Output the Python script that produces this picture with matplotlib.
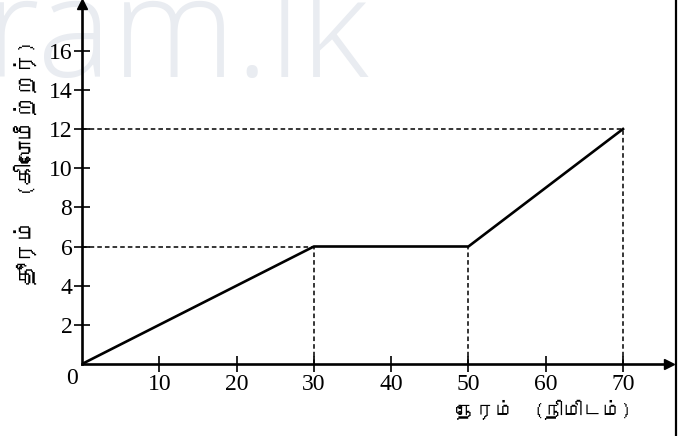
import numpy as np
import matplotlib
matplotlib.use("Agg")
import matplotlib.pyplot as plt
from matplotlib import font_manager
from matplotlib.ft2font import FT2Font
from matplotlib.lines import Line2D

# -----------------------------
# Data
# -----------------------------
time_min = [0, 30, 50, 70]
dist_km = [0, 6, 6, 12]
x_ticks = [10, 20, 30, 40, 50, 60, 70]
y_ticks = [2, 4, 6, 8, 10, 12, 14, 16]
x_label = "நேரம்  (நிமிடம்)"
y_label = "தூரம்  (கிலோமீற்றர்)"
watermark = "gram.lk"


# -----------------------------
# Find a font with Tamil glyphs, if any
# -----------------------------
def find_family(ch):
    for f in font_manager.fontManager.ttflist:
        try:
            if ord(ch) in FT2Font(f.fname).get_charmap():
                return f.name
        except Exception:
            pass
    return None


tamil = find_family("த")
label_family = [tamil, "DejaVu Sans"] if tamil else ["DejaVu Sans"]

W, H = 681, 436
fig = plt.figure(figsize=(W / 100, H / 100), dpi=100)

# axes placed so that the origin sits where it does in the scan
x0, y0 = 82, 364          # origin in pixels
px_x = (623 - 82) / 70    # pixels per minute
px_y = (364 - 129) / 12   # pixels per km
xmax, ymax = 76.0, 18.4
ax = fig.add_axes([x0 / W, (H - y0) / H, xmax * px_x / W, ymax * px_y / H])
ax.set_xlim(0, xmax)
ax.set_ylim(0, ymax)
ax.set_zorder(2)
ax.patch.set_visible(False)

# watermark, behind everything
fig.text(369 / W, 1 - 77 / H, watermark, ha="right", va="baseline",
         fontsize=101, color="#e9ecf1", family="Open Sans",
         fontweight="light", zorder=0)

# -----------------------------
# Axes with arrows
# -----------------------------
for s in ["top", "right"]:
    ax.spines[s].set_visible(False)
for s in ["left", "bottom"]:
    ax.spines[s].set_linewidth(1.9)
ax.plot(1, 0, ">k", markersize=7, transform=ax.get_yaxis_transform(), clip_on=False)
ax.plot(0, 1, "^k", markersize=7, transform=ax.get_xaxis_transform(), clip_on=False)

ax.set_xticks(x_ticks)
ax.set_yticks(y_ticks)
ax.tick_params(direction="inout", length=12, width=1.2, pad=1,
               labelsize=17, colors="black")
for lab in ax.get_xticklabels() + ax.get_yticklabels():
    lab.set_family("Liberation Serif")
ax.text(-0.5, -0.2, "0", ha="right", va="top", fontsize=17,
        family="Liberation Serif")

# -----------------------------
# Guide lines and graph
# -----------------------------
dash = dict(color="black", linewidth=1.1, linestyle=(0, (3, 2)))
ax.plot([0, time_min[1]], [dist_km[1], dist_km[1]], **dash)
ax.plot([time_min[1], time_min[1]], [0, dist_km[1]], **dash)
ax.plot([time_min[2], time_min[2]], [0, dist_km[2]], **dash)
ax.plot([0, time_min[3]], [dist_km[3], dist_km[3]], **dash)
ax.plot([time_min[3], time_min[3]], [0, dist_km[3]], **dash)

ax.plot(time_min, dist_km, color="black", linewidth=1.9, zorder=5)

# axis labels
fig.text(25 / W, 1 - 163 / H, y_label, rotation=90, ha="center", va="center",
         fontsize=16, family=label_family)
fig.text(544 / W, 1 - 410 / H, x_label, ha="center", va="center",
         fontsize=14, family=label_family)

# right border of the scan
fig.add_artist(Line2D([676 / W, 676 / W], [0, 1], color="black",
                      linewidth=1.6, transform=fig.transFigure))

plt.savefig("out.png", dpi=100)
print("[OK] tamil font:", tamil)
